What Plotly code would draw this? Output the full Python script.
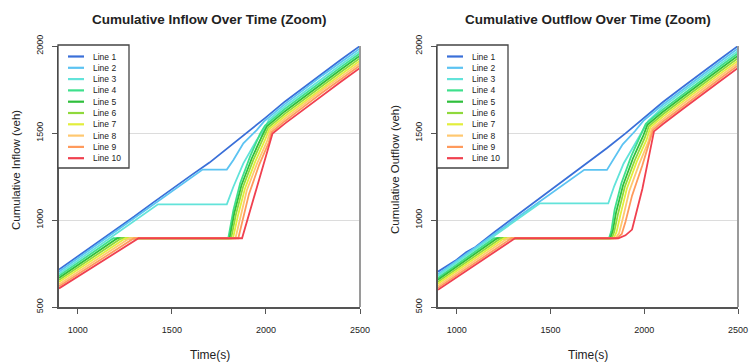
import plotly.graph_objects as go

# ---------------------------------------------------------------
# Cumulative vehicle counts (veh) per link, as (time s, count) breakpoints
# ---------------------------------------------------------------
line_names = ["Line 1", "Line 2", "Line 3", "Line 4", "Line 5",
              "Line 6", "Line 7", "Line 8", "Line 9", "Line 10"]

line_colors = ["#3a6fd8", "#5cc3f2", "#62e3da", "#3ee08c", "#2fbf3c",
               "#8fd93c", "#e2ee3c", "#ffc870", "#ff9a5c", "#f0404f"]

tail_t = [2100, 2200, 2300, 2400, 2500]

# ---- inflow ----
inflow_1 = [(900, 715), (1000, 790), (1100, 865), (1200, 942), (1300, 1020), (1400, 1100),
            (1500, 1180), (1600, 1255), (1700, 1330), (1800, 1415), (1900, 1500), (2000, 1590),
            (2100, 1680), (2200, 1762), (2300, 1845), (2400, 1922), (2500, 2000)]
inflow_2 = [(900, 703), (1000, 780), (1100, 857), (1200, 934), (1300, 1011), (1400, 1088),
            (1500, 1164), (1600, 1241), (1663, 1290), (1792, 1290), (1827, 1345), (1880, 1441),
            (1951, 1517), (1990, 1567), (2100, 1666), (2200, 1748), (2300, 1831), (2400, 1908),
            (2500, 1986)]
inflow_3 = [(900, 691), (1000, 767), (1100, 843), (1200, 918), (1300, 994), (1400, 1070),
            (1426, 1090), (1792, 1090), (1827, 1191), (1880, 1326), (1951, 1460), (1987, 1513),
            (2015, 1575), (2100, 1652), (2200, 1734), (2300, 1817), (2400, 1894), (2500, 1972)]
inflow_4 = [(900, 679), (1000, 754), (1100, 828), (1189, 895), (1800, 895), (1827, 1057),
            (1863, 1211), (1916, 1366), (1969, 1496), (1995, 1543), (2100, 1638), (2200, 1720),
            (2300, 1803), (2400, 1880), (2500, 1958)]
inflow_5 = [(900, 667), (1000, 741), (1100, 814), (1200, 888), (1210, 895), (1807, 895),
            (1832, 1040), (1870, 1200), (1925, 1355), (1978, 1480), (2005, 1538), (2100, 1624),
            (2200, 1706), (2300, 1789), (2400, 1866), (2500, 1944)]
inflow_6 = [(900, 655), (1000, 728), (1100, 800), (1200, 873), (1231, 895), (1815, 895),
            (1840, 1030), (1878, 1190), (1933, 1345), (1986, 1470), (2012, 1531), (2100, 1610),
            (2200, 1692), (2300, 1775), (2400, 1852), (2500, 1930)]
inflow_7 = [(900, 643), (1000, 714), (1100, 786), (1200, 857), (1253, 895), (1825, 895),
            (1850, 1020), (1888, 1180), (1943, 1335), (1995, 1460), (2018, 1522), (2100, 1596),
            (2200, 1678), (2300, 1761), (2400, 1838), (2500, 1916)]
inflow_8 = [(900, 631), (1000, 701), (1100, 772), (1200, 842), (1275, 895), (1838, 895),
            (1862, 1010), (1898, 1170), (1953, 1325), (2005, 1450), (2024, 1514), (2100, 1582),
            (2200, 1664), (2300, 1747), (2400, 1824), (2500, 1902)]
inflow_9 = [(900, 619), (1000, 688), (1100, 757), (1200, 827), (1299, 895), (1853, 895),
            (1875, 1000), (1910, 1150), (1965, 1320), (2015, 1445), (2030, 1505), (2100, 1568),
            (2200, 1650), (2300, 1733), (2400, 1810), (2500, 1888)]
inflow_10 = [(900, 607), (1000, 675), (1100, 743), (1200, 811), (1300, 879), (1323, 895),
             (1873, 895), (1920, 1073), (1975, 1277), (2035, 1497), (2100, 1554), (2200, 1636),
             (2300, 1719), (2400, 1796), (2500, 1874)]

# ---- outflow ----
outflow_1 = [(900, 703), (1000, 772), (1050, 815), (1100, 845), (1200, 930), (1300, 1010),
             (1400, 1090), (1500, 1170), (1600, 1250), (1700, 1330), (1800, 1412), (1900, 1498),
             (2000, 1588), (2100, 1678), (2200, 1760), (2300, 1843), (2400, 1921), (2500, 2000)]
outflow_2 = [(900, 689), (1000, 766), (1100, 843), (1200, 920), (1300, 997), (1400, 1074),
             (1500, 1151), (1600, 1228), (1680, 1288), (1801, 1288), (1835, 1345), (1885, 1435),
             (1950, 1510), (1995, 1570), (2100, 1664), (2200, 1746), (2300, 1829), (2400, 1907),
             (2500, 1986)]
outflow_3 = [(900, 680), (1000, 757), (1100, 833), (1200, 910), (1300, 987), (1400, 1063),
             (1442, 1095), (1808, 1095), (1840, 1195), (1890, 1325), (1960, 1460), (1995, 1520),
             (2022, 1570), (2100, 1650), (2200, 1732), (2300, 1815), (2400, 1893), (2500, 1972)]
outflow_4 = [(900, 668), (1000, 744), (1100, 820), (1199, 895), (1812, 895), (1824, 935),
             (1842, 1060), (1878, 1211), (1930, 1366), (1982, 1496), (2008, 1553), (2100, 1636),
             (2200, 1718), (2300, 1801), (2400, 1879), (2500, 1958)]
outflow_5 = [(900, 657), (1000, 732), (1100, 808), (1200, 883), (1216, 895), (1819, 895),
             (1832, 935), (1850, 1045), (1887, 1200), (1940, 1355), (1993, 1480), (2017, 1547),
             (2100, 1622), (2200, 1704), (2300, 1787), (2400, 1865), (2500, 1944)]
outflow_6 = [(900, 645), (1000, 720), (1100, 794), (1200, 869), (1235, 895), (1827, 895),
             (1840, 932), (1860, 1035), (1896, 1190), (1950, 1345), (2002, 1470), (2025, 1540),
             (2100, 1608), (2200, 1690), (2300, 1773), (2400, 1851), (2500, 1930)]
outflow_7 = [(900, 634), (1000, 708), (1100, 782), (1200, 856), (1253, 895), (1836, 895),
             (1852, 930), (1872, 1025), (1907, 1180), (1960, 1335), (2012, 1460), (2033, 1534),
             (2100, 1594), (2200, 1676), (2300, 1759), (2400, 1837), (2500, 1916)]
outflow_8 = [(900, 622), (1000, 695), (1100, 769), (1200, 842), (1272, 895), (1846, 895),
             (1866, 925), (1886, 1010), (1920, 1165), (1972, 1320), (2022, 1450), (2040, 1526),
             (2100, 1580), (2200, 1662), (2300, 1745), (2400, 1823), (2500, 1902)]
outflow_9 = [(900, 610), (1000, 683), (1100, 755), (1200, 828), (1292, 895), (1855, 895),
             (1880, 920), (1900, 990), (1935, 1140), (1990, 1315), (2030, 1460), (2047, 1518),
             (2100, 1566), (2200, 1648), (2300, 1731), (2400, 1809), (2500, 1888)]
outflow_10 = [(900, 599), (1000, 671), (1100, 743), (1200, 815), (1300, 887), (1311, 895),
              (1862, 895), (1900, 912), (1935, 945), (1990, 1180), (2052, 1509), (2100, 1552),
              (2200, 1634), (2300, 1717), (2400, 1795), (2500, 1874)]

inflow_series = [inflow_1, inflow_2, inflow_3, inflow_4, inflow_5,
                 inflow_6, inflow_7, inflow_8, inflow_9, inflow_10]
outflow_series = [outflow_1, outflow_2, outflow_3, outflow_4, outflow_5,
                  outflow_6, outflow_7, outflow_8, outflow_9, outflow_10]

x_ticks = [1000, 1500, 2000, 2500]
y_ticks = [500, 1000, 1500, 2000]
x_range = [900, 2500]
y_range = [500, 2000]

panel_titles = ["Cumulative Inflow Over Time (Zoom)", "Cumulative Outflow Over Time (Zoom)"]
y_titles = ["Cumulative Inflow (veh)", "Cumulative Outflow (veh)"]
x_title = "Time(s)"

# ---------------------------------------------------------------
# Page geometry (pixels) -> paper fractions
# ---------------------------------------------------------------
W, H = 751, 364
FONT = "Liberation Sans, Arial, sans-serif"
AXIS_C = "#555555"

panels = [  # left, right, top, bottom of each plotting area in px
    dict(l=59, r=360, t=46, b=307),
    dict(l=438, r=738, t=46, b=307),
]


def fx(px):
    return px / W


def fy(py):
    return 1 - py / H


fig = go.Figure()
annotations = []
shapes = []

for i, (series, p) in enumerate(zip([inflow_series, outflow_series], panels)):
    xa = "x" if i == 0 else "x2"
    ya = "y" if i == 0 else "y2"
    for name, color, pts in zip(line_names, line_colors, series):
        fig.add_trace(go.Scatter(
            x=[t for t, _ in pts], y=[v for _, v in pts],
            mode="lines", name=name, xaxis=xa, yaxis=ya,
            line=dict(color=color, width=1.8), showlegend=False,
            hoverinfo="skip",
        ))

    axis_x = dict(
        domain=[fx(p["l"]), fx(p["r"])], range=x_range, tickvals=x_ticks,
        ticks="outside", ticklen=5, tickwidth=1.2, tickcolor=AXIS_C,
        showline=True, linecolor=AXIS_C, linewidth=1.6, showgrid=False,
        zeroline=False, tickfont=dict(family=FONT, size=9, color="#222222"),
        ticklabelstandoff=8, anchor=ya, fixedrange=True,
    )
    axis_y = dict(
        domain=[fy(p["b"]), fy(p["t"])], range=y_range, tickvals=y_ticks,
        tickangle=-90, ticks="outside", ticklen=5, tickwidth=1.2, tickcolor=AXIS_C,
        showline=True, linecolor=AXIS_C, linewidth=1.6, showgrid=True,
        gridcolor="#dcdcdc", gridwidth=1, zeroline=False,
        tickfont=dict(family=FONT, size=9, color="#222222"),
        ticklabelstandoff=6, anchor=xa, fixedrange=True,
    )
    if i == 0:
        fig.update_layout(xaxis=axis_x, yaxis=axis_y)
    else:
        fig.update_layout(xaxis2=axis_x, yaxis2=axis_y)

    # right-hand frame edge
    shapes.append(dict(type="line", xref=f"{xa} domain", yref=f"{ya} domain",
                       x0=1, x1=1, y0=0, y1=1,
                       line=dict(color="#9a9a9a", width=2), layer="above"))

    # panel title and axis titles
    cx = (p["l"] + p["r"]) / 2
    annotations.append(dict(text=f"<b>{panel_titles[i]}</b>", x=fx(cx), y=fy(19),
                            xref="paper", yref="paper", showarrow=False,
                            xanchor="center", yanchor="middle",
                            font=dict(family=FONT, size=13.5, color="#222222")))
    annotations.append(dict(text=x_title, x=fx(cx), y=fy(355), xref="paper", yref="paper",
                            showarrow=False, xanchor="center", yanchor="middle",
                            font=dict(family=FONT, size=12, color="#222222")))
    annotations.append(dict(text=y_titles[i], x=fx(p["l"] - 43), y=fy(170),
                            xref="paper", yref="paper", showarrow=False, textangle=-90,
                            xanchor="center", yanchor="middle",
                            font=dict(family=FONT, size=11.5, color="#222222")))

    # boxed legend in the upper-left corner
    bx0, bx1, by0, by1 = p["l"] - 1, p["l"] + 70, p["t"] - 1, p["t"] + 122
    shapes.append(dict(type="rect", xref="paper", yref="paper",
                       x0=fx(bx0), x1=fx(bx1), y0=fy(by1), y1=fy(by0),
                       line=dict(color="#444444", width=1.3), fillcolor="white",
                       layer="above"))
    for k, (name, color) in enumerate(zip(line_names, line_colors)):
        yy = p["t"] + 10.5 + k * 11.3
        shapes.append(dict(type="line", xref="paper", yref="paper",
                           x0=fx(p["l"] + 9), x1=fx(p["l"] + 25), y0=fy(yy), y1=fy(yy),
                           line=dict(color=color, width=2.2), layer="above"))
        annotations.append(dict(text=name, x=fx(p["l"] + 32), y=fy(yy),
                                xref="paper", yref="paper", showarrow=False,
                                xanchor="left", yanchor="middle",
                                font=dict(family=FONT, size=8.5, color="#222222")))

fig.update_layout(
    width=W, height=H,
    margin=dict(l=0, r=0, t=0, b=0, autoexpand=False),
    paper_bgcolor="white", plot_bgcolor="white",
    showlegend=False,
    annotations=annotations, shapes=shapes,
)

fig.write_html("out.html", include_plotlyjs=True, config={"displayModeBar": False})
